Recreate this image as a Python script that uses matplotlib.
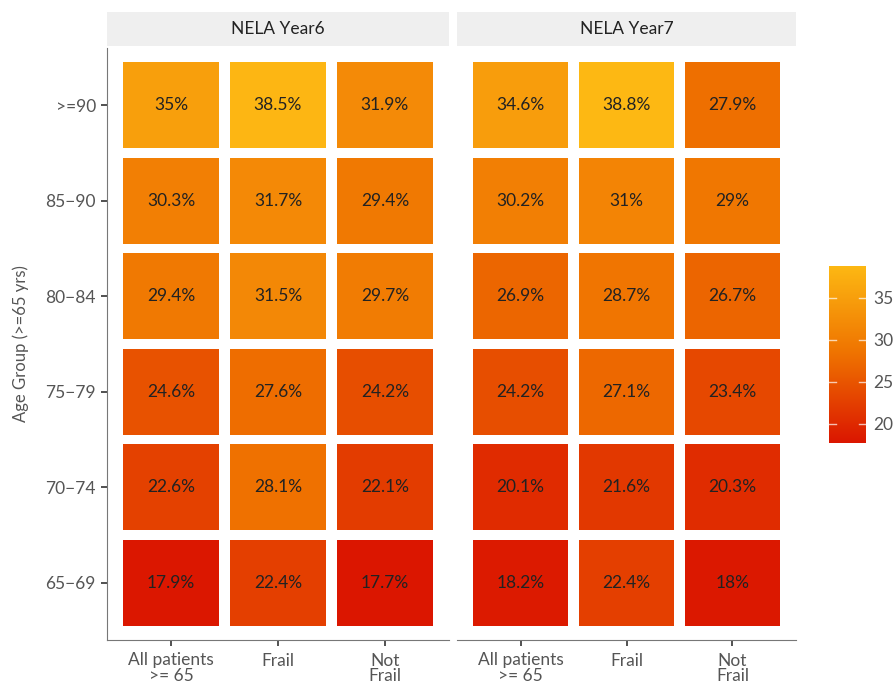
import matplotlib
matplotlib.use("Agg")
import matplotlib.pyplot as plt
import numpy as np
from matplotlib.colors import LinearSegmentedColormap, Normalize

plt.rcParams['font.family'] = ['Lato', 'DejaVu Sans']

age_groups = ["65\u221269", "70\u221274", "75\u221279", "80\u221284", "85\u221290", ">=90"]
categories = ["All patients\n>= 65", "Frail", "Not\nFrail"]
panels = ["NELA Year6", "NELA Year7"]

# rows ordered bottom (65-69) to top (>=90); columns: All, Frail, Not Frail
year6 = [
    [17.9, 22.4, 17.7],
    [22.6, 28.1, 22.1],
    [24.6, 27.6, 24.2],
    [29.4, 31.5, 29.7],
    [30.3, 31.7, 29.4],
    [35.0, 38.5, 31.9],
]
year7 = [
    [18.2, 22.4, 18.0],
    [20.1, 21.6, 20.3],
    [24.2, 27.1, 23.4],
    [26.9, 28.7, 26.7],
    [30.2, 31.0, 29.0],
    [34.6, 38.8, 27.9],
]
panel_values = [year6, year7]
cbar_ticks = [20, 25, 30, 35]

allv = np.array(year6 + year7)
vmin, vmax = allv.min(), allv.max()
cmap = LinearSegmentedColormap.from_list(
    "rdyl", [(0.0, "#DB1600"), (0.5, "#EF7200"), (1.0, "#FDB813")])
norm = Normalize(vmin=vmin, vmax=vmax)

fig = plt.figure(figsize=(8.96, 6.87), dpi=100)
axes_pos = [[107/896, 1-640/687, 342/896, 592/687], [457/896, 1-640/687, 339/896, 592/687]]
tick_color = "#555555"
line_color = "#777777"

for p, (title, vals) in enumerate(zip(panels, panel_values)):
    ax = fig.add_axes(axes_pos[p])
    vals = np.array(vals)
    for r in range(len(age_groups)):
        for c in range(len(categories)):
            v = vals[r, c]
            ax.bar(c + 1, 0.9, bottom=r + 1 - 0.45, width=0.9, color=cmap(norm(v)), linewidth=0)
            ax.text(c + 1, r + 1, f"{v:g}%", ha="center", va="center", fontsize=12.5, color="#222222")
    ax.set_xlim(0.4, 3.6)
    ax.set_ylim(0.4, 6.6)
    ax.set_xticks([1, 2, 3])
    ax.set_xticklabels(categories, fontsize=12.5, color=tick_color, linespacing=0.95)
    ax.set_yticks(range(1, 7))
    if p == 0:
        ax.set_yticklabels(age_groups, fontsize=12.5, color=tick_color)
        ax.set_ylabel("Age Group (>=65 yrs)", fontsize=12, color=tick_color, labelpad=12)
        ax.spines['left'].set_color(line_color)
        ax.tick_params(axis='y', length=4, color="#333333", width=1.2, pad=4)
    else:
        ax.set_yticklabels([])
        ax.tick_params(axis='y', length=0)
        ax.spines['left'].set_visible(False)
    ax.spines['top'].set_visible(False)
    ax.spines['right'].set_visible(False)
    ax.spines['bottom'].set_color(line_color)
    ax.tick_params(axis='x', length=4, color="#333333", width=1.2, pad=5)
    # strip
    pos = axes_pos[p]
    strip = fig.add_axes([pos[0], 1-46/687, pos[2], 34/687])
    strip.set_facecolor("#EFEFEF")
    for s in strip.spines.values():
        s.set_visible(False)
    strip.set_xticks([]); strip.set_yticks([])
    strip.text(0.5, 0.5, title, ha="center", va="center", fontsize=12.5, color="#222222",
               transform=strip.transAxes)

# colorbar
cax = fig.add_axes([829/896, 1-443/687, 37/896, 177/687])
grad = np.linspace(vmin, vmax, 256).reshape(-1, 1)
cax.imshow(grad, aspect="auto", cmap=cmap, norm=norm, origin="lower",
           extent=[0, 1, vmin, vmax])
cax.set_xlim(0, 1)
cax.set_ylim(vmin, vmax)
for t in cbar_ticks:
    cax.plot([0, 0.2], [t, t], color="white", lw=1, alpha=0.7)
    cax.plot([0.8, 1], [t, t], color="white", lw=1, alpha=0.7)
cax.set_xticks([])
cax.yaxis.tick_right()
cax.set_yticks(cbar_ticks)
cax.set_yticklabels([str(t) for t in cbar_ticks], fontsize=12.5, color=tick_color)
cax.tick_params(axis='y', length=0, pad=5)
for s in cax.spines.values():
    s.set_visible(False)

fig.savefig("out.png", dpi=100)
